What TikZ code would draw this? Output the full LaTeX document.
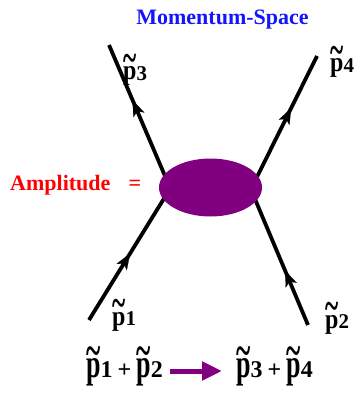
\documentclass[tikz,border=0pt]{standalone}
\usepackage{fontspec}
\setmainfont{Liberation Serif}
\usepackage{graphicx}
\usetikzlibrary{shapes.geometric,arrows.meta,decorations.markings}
\definecolor{ampPurple}{RGB}{128,0,128}
\definecolor{titleBlue}{RGB}{20,20,255}
\definecolor{ampRed}{RGB}{255,0,0}
% #1 p size, #2 vertical stretch of p, #3 digit size, #4 raise of tilde, #5 digit
\newcommand\mom[5]{{\fontsize{#1}{#1}\selectfont\bfseries\makebox[0pt][l]{\raisebox{#4}{\scalebox{1.05}[1.8]{\textasciitilde}}}\scalebox{1}[#2]{p}}{\fontsize{#3}{#3}\selectfont\bfseries\raisebox{-0.8pt}{#5}}}
\begin{document}
\begin{tikzpicture}[x=1pt,y=-1pt,
  leg/.style={line width=3.8pt, black},
  midarrow/.style={postaction={decorate}, decoration={markings,
     mark=at position #1 with {\arrow{Stealth[length=16pt,width=12pt,inset=4pt,line width=0.1pt]}}}},
  txt/.style={inner sep=0pt, anchor=base west},
  big/.style={font=\fontsize{22}{24}\selectfont\bfseries}]
\useasboundingbox (0,0) rectangle (355,393);
% leg end points
\coordinate (t3) at (109,45);  \coordinate (b3) at (168,183);
\coordinate (t4) at (317,56);  \coordinate (b4) at (254,183);
\coordinate (t1) at (89,320);  \coordinate (b1) at (168,192);
\coordinate (t2) at (308,325); \coordinate (b2) at (252,192);
\draw[leg, midarrow=0.6] (b3) -- (t3);
\draw[leg, midarrow=0.59] (b4) -- (t4);
\draw[leg, midarrow=0.52] (t1) -- (b1);
\draw[leg, midarrow=0.41]  (t2) -- (b2);
% blob
\node[ellipse, fill=ampPurple, minimum width=103pt, minimum height=58pt, inner sep=0pt] (amp) at (210.5,187.5) {};
% texts
\node[big, text=titleBlue, inner sep=0pt, anchor=base] (title) at (222.5,25) {Momentum-Space};
\node[txt, big, text=ampRed] (ampl) at (10,190) {Amplitude};
\node[big, text=ampRed, inner sep=0pt, anchor=base] (eq) at (135,190) {=};
\node[txt] (l3) at (123,80) {\mom{24}{1.15}{21}{7.5pt}{3}};
\node[txt] (l4) at (330,72) {\mom{24}{1.15}{21}{7.5pt}{4}};
\node[txt] (l1) at (112,325) {\mom{24}{1.15}{21}{7.5pt}{1}};
\node[txt] (l2) at (325,328) {\mom{24}{1.15}{21}{7.5pt}{2}};
% reaction
\node[txt] (lhs) at (86,377) {\mom{26}{1.55}{24}{10.5pt}{1}\hspace{5pt}{\fontsize{24}{24}\selectfont\bfseries +}\hspace{5pt}\mom{26}{1.55}{24}{10.5pt}{2}};
\node[txt] (rhs) at (236,377) {\mom{26}{1.55}{24}{10.5pt}{3}\hspace{5pt}{\fontsize{24}{24}\selectfont\bfseries +}\hspace{5pt}\mom{26}{1.55}{24}{10.5pt}{4}};
\coordinate (as) at (170,371);
\coordinate (ae) at (222,371);
\draw[ampPurple, line width=5pt, -{Triangle[length=20pt,width=18pt]}] (as) -- (ae);
\end{tikzpicture}
\end{document}
